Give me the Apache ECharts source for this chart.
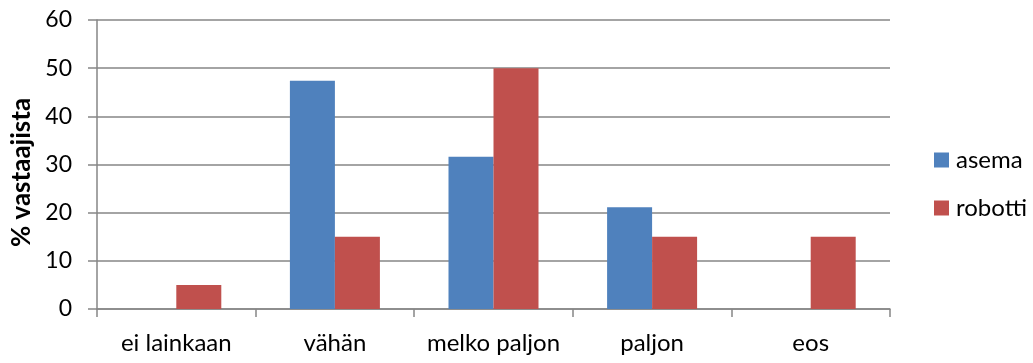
<!DOCTYPE html>
<html>
<head>
<meta charset="utf-8">
<script src="https://cdn.jsdelivr.net/npm/echarts@6/dist/echarts.min.js"></script>
<style>
  html, body { margin: 0; padding: 0; background: #fff; }
  #chart { width: 1033px; height: 363px; }
</style>
</head>
<body>
<div id="chart"></div>
<script>
// Response categories and shares (% of respondents)
const categories = ['ei lainkaan', 'vähän', 'melko paljon', 'paljon', 'eos'];
const asema = [0, 47.4, 31.6, 21.1, 0];
const robotti = [5, 15, 50, 15, 15];
const yTicks = { min: 0, max: 60, interval: 10 };

const FONT = 'Lato, "Open Sans", sans-serif';
const GRID_GRAY = '#868686';

const chart = echarts.init(document.getElementById('chart'), null, { renderer: 'canvas' });
chart.setOption({
  animation: false,
  textStyle: { fontFamily: FONT },
  grid: { left: 97, right: 143, top: 20, bottom: 54, containLabel: false },
  legend: {
    orient: 'vertical',
    left: 934,
    top: 148,
    padding: 0,
    itemWidth: 15,
    itemHeight: 15,
    itemGap: 24,
    icon: 'rect',
    textStyle: { fontFamily: FONT, fontSize: 24, lineHeight: 24, color: '#000', padding: [0, 0, 0, 2] },
    data: ['asema', 'robotti']
  },
  xAxis: {
    type: 'category',
    data: categories,
    axisLine: { lineStyle: { color: GRID_GRAY, width: 1.5 } },
    axisTick: { show: true, interval: 0, length: 8, lineStyle: { color: GRID_GRAY, width: 1.5 } },
    axisLabel: { interval: 0, hideOverlap: false, fontFamily: FONT, fontSize: 24, color: '#000', margin: 22 }
  },
  yAxis: {
    type: 'value',
    min: yTicks.min,
    max: yTicks.max,
    interval: yTicks.interval,
    name: '% vastaajista',
    nameLocation: 'middle',
    nameGap: 62,
    nameRotate: 90,
    nameTextStyle: {
      fontFamily: FONT, fontSize: 26, fontWeight: 'bold', color: '#000',
      padding: [0, 16, 0, 0]
    },
    axisLine: { show: true, lineStyle: { color: GRID_GRAY, width: 1.5 } },
    axisTick: { show: true, length: 9, lineStyle: { color: GRID_GRAY, width: 1.5 } },
    axisLabel: { fontFamily: FONT, fontSize: 23, color: '#000', margin: 25 },
    splitLine: { show: true, lineStyle: { color: GRID_GRAY, width: 1.5 } }
  },
  series: [
    {
      name: 'asema',
      type: 'bar',
      data: asema,
      barWidth: 45,
      barGap: '0%',
      itemStyle: { color: '#4F81BD' }
    },
    {
      name: 'robotti',
      type: 'bar',
      data: robotti,
      barWidth: 45,
      barGap: '0%',
      itemStyle: { color: '#C0504D' }
    }
  ]
});
</script>
</body>
</html>
